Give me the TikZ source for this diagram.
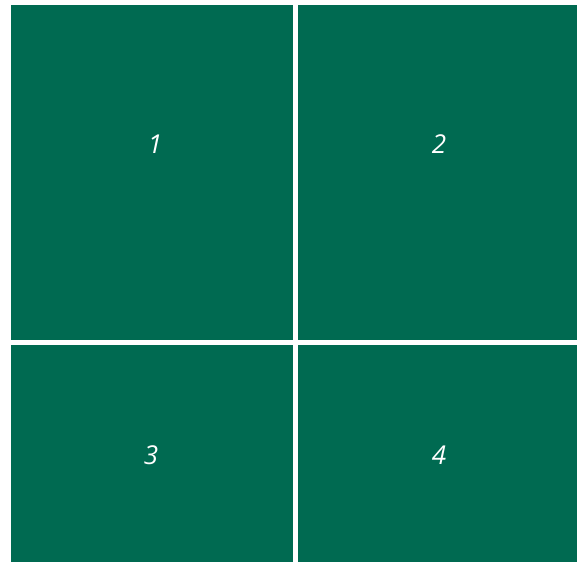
\documentclass[tikz,border=0pt]{standalone}
\usepackage{fontspec}
\setsansfont{Open Sans}
\definecolor{tilegreen}{RGB}{0,106,81}
\tikzset{
  tile/.style={fill=tilegreen, draw=none, inner sep=0pt, outer sep=0pt, anchor=north west},
  tilelabel/.style={text=white, inner sep=0pt, font=\sffamily\itshape\fontsize{26}{30}\selectfont}
}
\begin{document}
\begin{tikzpicture}[x=1pt,y=-1pt]
  \useasboundingbox (0,0) rectangle (577,562);
  % upper row
  \node[tile, minimum width=282pt, minimum height=335pt] (tile1) at (11,5) {};
  \node[tile, minimum width=279pt, minimum height=335pt] (tile2) at (298,5) {};
  % lower row
  \node[tile, minimum width=282pt, minimum height=217pt] (tile3) at (11,345) {};
  \node[tile, minimum width=279pt, minimum height=217pt] (tile4) at (298,345) {};

  \node[tilelabel] (lab1) at (155,144) {1};
  \node[tilelabel] (lab2) at (439,144) {2};
  \node[tilelabel] (lab3) at (151,455) {3};
  \node[tilelabel] (lab4) at (439,455) {4};
\end{tikzpicture}
\end{document}
